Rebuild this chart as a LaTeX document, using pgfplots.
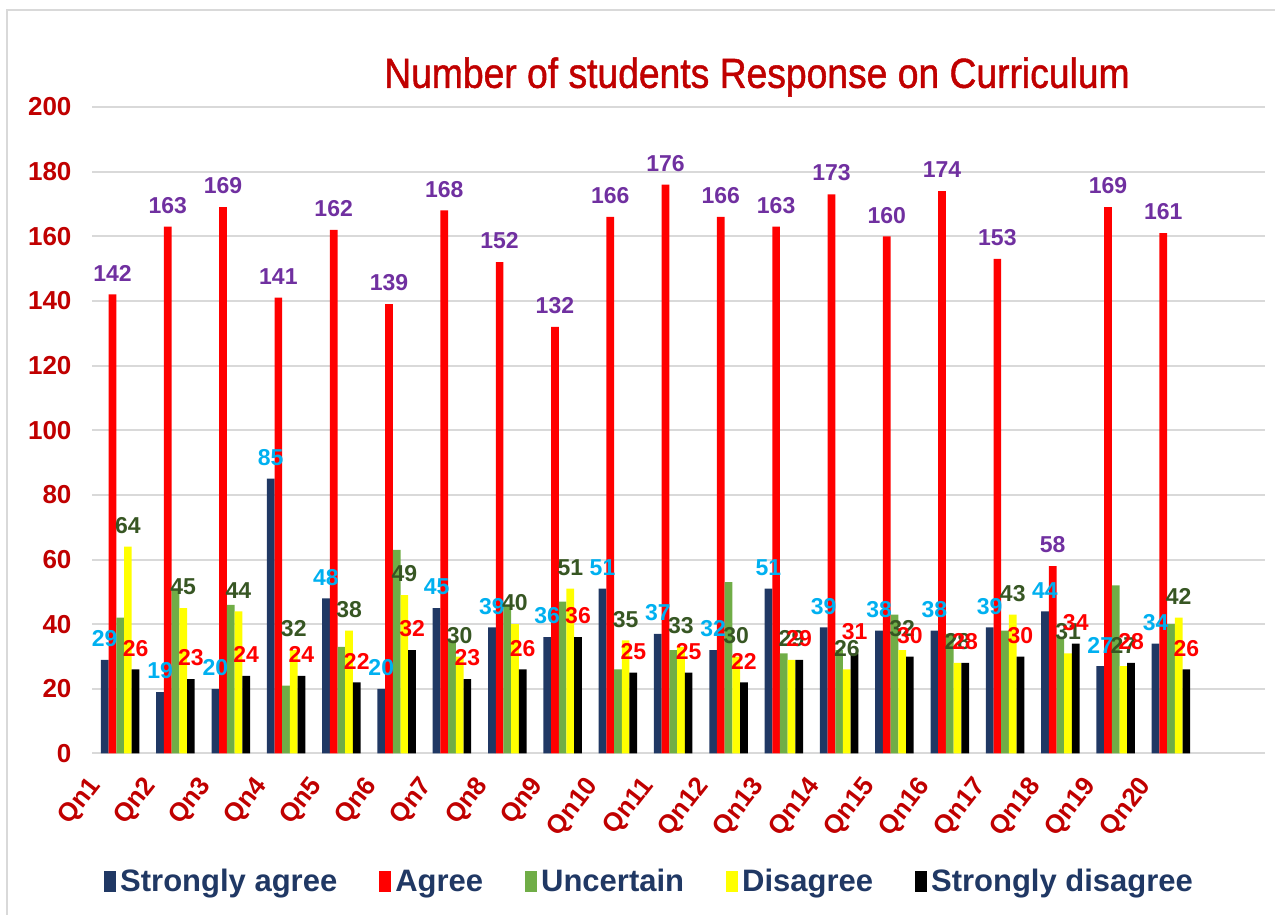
\documentclass[border=0pt]{standalone}
\usepackage{fontspec}
\setmainfont{Liberation Sans}
\newfontfamily\titlefont{Liberation Sans}[FakeBold=1.2]
\usepackage{graphicx}
\usepackage{pgfplots}
\pgfplotsset{compat=1.18}
\usepackage{pgfplotstable}
\definecolor{navy}{HTML}{203864}
\definecolor{barred}{HTML}{FF0000}
\definecolor{bargreen}{HTML}{70AD47}
\definecolor{baryellow}{HTML}{FFFF00}
\definecolor{lblcyan}{HTML}{00B0F0}
\definecolor{lblpurple}{HTML}{7030A0}
\definecolor{lblgreen}{HTML}{375623}
\definecolor{tickred}{HTML}{C00000}
\definecolor{gridgray}{HTML}{D9D9D9}
\pgfplotstableread{
x SA A U D SD
0 29 142 42 64 26
1 19 163 51 45 23
2 20 169 46 44 24
3 85 141 21 32 24
4 48 162 33 38 22
5 20 139 63 49 32
6 45 168 35 30 23
7 39 152 46 40 26
8 36 132 47 51 36
9 51 166 26 35 25
10 37 176 32 33 25
11 32 166 53 30 22
12 51 163 31 29 29
13 39 173 32 26 31
14 38 160 43 32 30
15 38 174 37 28 28
16 39 153 38 43 30
17 44 58 36 31 34
18 27 169 52 27 28
19 34 161 40 42 26
}\data
\begin{document}
\begin{tikzpicture}
\path[use as bounding box] (-46.25pt,-80.75pt) rectangle (591.25pt,376.75pt);
\draw[gridgray, line width=1pt] (-42.75pt,-80.75pt) -- (-42.75pt,371.75pt) -- (591.25pt,371.75pt);
\begin{axis}[
  at={(0,0)}, anchor=south west,
  scale only axis, width=586.25pt, height=323.25pt,
  xmin=-0.5, xmax=20.7, ymin=0, ymax=200,
  ybar=0pt, bar width=3.85pt,
  xtick={0,1,...,19},
  xticklabels={Qn1,Qn2,Qn3,Qn4,Qn5,Qn6,Qn7,Qn8,Qn9,Qn10,Qn11,Qn12,Qn13,Qn14,Qn15,Qn16,Qn17,Qn18,Qn19,Qn20},
  ytick={0,20,...,200},
  ymajorgrids, grid style={draw=gridgray, line width=1pt},
  axis line style={draw=none},
  major tick length=0pt,
  /pgf/number format/assume math mode=true,
  yticklabel style={font=\bfseries\fontsize{13}{15}\selectfont, text=tickred, xshift=-7pt},
  xticklabel style={xshift=-12pt, yshift=-14pt, rotate=52, anchor=east, inner sep=0pt, font=\bfseries\fontsize{13}{15}\selectfont, text=tickred},
  every node near coord/.append style={font=\bfseries\fontsize{11.5}{13}\selectfont, yshift=3pt},
  clip=false,
  legend style={at={(0.476,-0.199)}, anchor=center, legend columns=-1, draw=none, fill=none,
    font=\bfseries\fontsize{15.5}{18}\selectfont, text=navy,
    /tikz/every even column/.append style={column sep=19pt}},
  legend image code/.code={\fill[#1] (0pt,-5pt) rectangle (6pt,5.5pt);},
]
\addplot[fill=navy, draw=none, nodes near coords, every node near coord/.append style={text=lblcyan}] table[x=x, y=SA] {\data};
\addlegendentry{Strongly agree}
\addplot[fill=barred, draw=none, nodes near coords, every node near coord/.append style={text=lblpurple}] table[x=x, y=A] {\data};
\addlegendentry{Agree}
\addplot[fill=bargreen, draw=none] table[x=x, y=U] {\data};
\addlegendentry{Uncertain}
\addplot[fill=baryellow, draw=none, nodes near coords, every node near coord/.append style={text=lblgreen}] table[x=x, y=D] {\data};
\addlegendentry{Disagree}
\addplot[fill=black, draw=none, nodes near coords, every node near coord/.append style={text=barred}] table[x=x, y=SD] {\data};
\addlegendentry{Strongly disagree}
\end{axis}
\node[font=\titlefont\fontsize{21}{24}\selectfont, text=tickred] at (332.25pt,338.25pt) {\scalebox{0.887}[1]{Number of students Response on Curriculum}};
\end{tikzpicture}
\end{document}
